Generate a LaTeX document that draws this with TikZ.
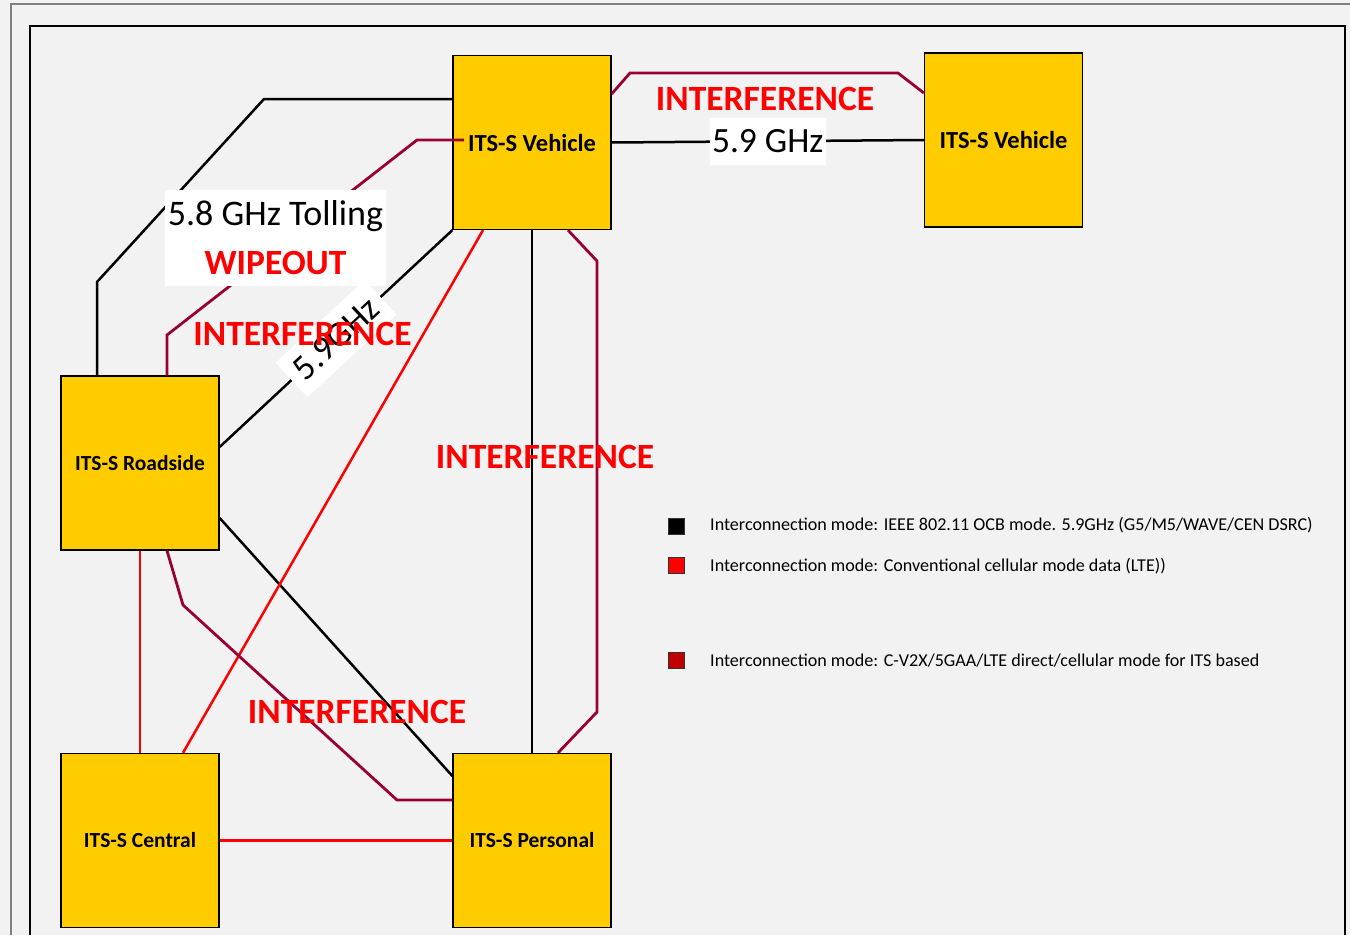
\documentclass[tikz,border=0pt]{standalone}
\usepackage{fontspec}
\setmainfont{Carlito}
\usetikzlibrary{calc}
\definecolor{itsyellow}{HTML}{FFCC00}
\definecolor{paper}{HTML}{F2F2F2}
\definecolor{cvred}{HTML}{990033}
\definecolor{lte}{HTML}{FF0000}
\definecolor{cvkey}{HTML}{C00000}
\definecolor{frame}{HTML}{808080}

\begin{document}
\begin{tikzpicture}[x=1pt,y=-1pt,line width=2.4pt,
  itsbox/.style={draw=black,line width=1.3pt,fill=itsyellow,minimum width=158pt,minimum height=174pt,inner sep=0pt,font=\fontsize{21.5}{24}\selectfont\bfseries},
  bigits/.style={font=\fontsize{24.5}{28}\selectfont\bfseries},
  ocb/.style={draw=black,line width=2.5pt},
  cell/.style={draw=lte,line width=2.5pt},
  cvx/.style={draw=cvred,line width=2.8pt},
  warn/.style={text=lte,font=\fontsize{35.5}{40}\selectfont\bfseries,inner sep=0pt,anchor=base},
  freq/.style={fill=white,font=\fontsize{35.5}{40}\selectfont,inner xsep=2pt,inner ysep=0pt,minimum height=47pt},
  keybox/.style={draw=black!80,line width=0.8pt,minimum size=16pt,inner sep=0pt},
  keytext/.style={anchor=base west,font=\fontsize{18.1}{20}\selectfont,inner sep=0pt}]
  \useasboundingbox (0,0) rectangle (1350,935);
  \fill[paper] (0,0) rectangle (1350,935);
  \draw[frame,line width=1.5pt] (11,935) -- (11,4) -- (1350,4);
  \draw[black,line width=2pt] (29.5,935) -- (29.5,25.5) -- (1345,25.5) -- (1345,935);

  \node (veh) at (532,142.5)[itsbox,bigits]{ITS-S Vehicle};
  \node (veh2) at (1003.5,140)[itsbox,bigits]{ITS-S Vehicle};
  \node (road) at (140,463)[itsbox]{ITS-S Roadside};
  \node (cent) at (140,840.5)[itsbox]{ITS-S Central};
  \node (pers) at (532,840.5)[itsbox]{ITS-S Personal};

  % IEEE 802.11 OCB
  \draw[ocb] (veh.west |- 0,99) -- (264,99) -- (97,282) -- (road.north -| 97,0);
  \draw[ocb] (veh.east) -- node[freq]{5.9 GHz} (veh2.west);
  \draw[ocb] (veh.south west) -- node[freq,sloped,inner xsep=9pt]{5.9GHz} (road.east |- 0,447);
  \draw[ocb] (veh.south) -- (pers.north);
  \draw[ocb] (road.east |- 0,518) -- (pers.west |- 0,776);

  % cellular (LTE)
  \draw[cell] (veh.south -| 483,0) -- (cent.north -| 183,0);
  \draw[cell] (road.south) -- (cent.north);
  \draw[cell] (cent.east) -- (pers.west);

  % C-V2X
  \coordinate (tolltip) at (464,140);
  \draw[cvx] (veh.east |- 0,94) -- (630,73) -- (898,73) -- (veh2.west |- 0,93);
  \draw[cvx] (tolltip) -- (417,140) -- (167,335) -- (road.north -| 167,0);
  \draw[cvx] (veh.south -| 568,0) -- (597,261) -- (597,712) -- (pers.north -| 558,0);
  \draw[cvx] (road.south -| 167,0) -- (183,605) -- (397,800) -- (pers.west |- 0,800);

  \node (toll) at (275.5,238)[fill=white,minimum width=221pt,minimum height=96pt,inner sep=0pt]{};
  \node (tolltxt) at (275.5,225)[anchor=base,inner sep=0pt,font=\fontsize{36}{40}\selectfont]{5.8 GHz Tolling};
  \node (wipe) at (275.5,274)[warn]{WIPEOUT};
  \node (intf1) at (765,110)[warn]{INTERFERENCE};
  \node (intf2) at (302.5,345)[warn]{INTERFERENCE};
  \node (intf3) at (545,468)[warn]{INTERFERENCE};
  \node (intf4) at (357,723)[warn]{INTERFERENCE};

  % legend
  \node (kocb) at (676,526.5)[keybox,fill=black]{};
  \node (klte) at (676,565)[keybox,fill=lte]{};
  \node (kcvx) at (676,660)[keybox,fill=cvkey]{};
  \node (tocb) at (709,530)[keytext]{Interconnection mode: IEEE 802.11 OCB mode. 5.9GHz (G5/M5/WAVE/CEN DSRC)};
  \node (tlte) at (709,571)[keytext]{Interconnection mode: Conventional cellular mode data (LTE))};
  \node (tcvx) at (709,666)[keytext]{Interconnection mode: C-V2X/5GAA/LTE direct/cellular mode for ITS based};
\end{tikzpicture}
\end{document}
